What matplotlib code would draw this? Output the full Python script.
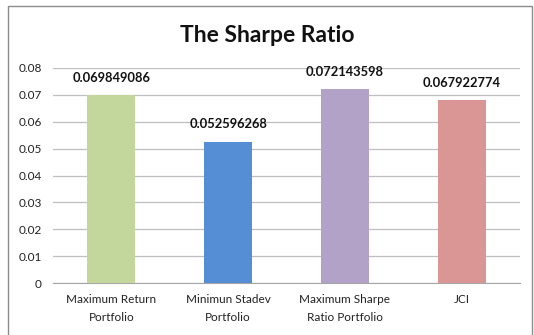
import matplotlib
matplotlib.use("Agg")
import matplotlib.pyplot as plt
from matplotlib.patches import Rectangle

categories = ["Maximum Return\nPortfolio", "Minimun Stadev\nPortfolio",
              "Maximum Sharpe\nRatio Portfolio", "JCI"]
values = [0.069849086, 0.052596268, 0.072143598, 0.067922774]
labels = ["0.069849086", "0.052596268", "0.072143598", "0.067922774"]
colors = ["#C3D69B", "#558ED5", "#B3A2C7", "#D99694"]
yticks = [0, 0.01, 0.02, 0.03, 0.04, 0.05, 0.06, 0.07, 0.08]
yticklabels = ["0", "0.01", "0.02", "0.03", "0.04", "0.05", "0.06", "0.07", "0.08"]

plt.rcParams['font.family'] = ['Lato', 'DejaVu Sans']

W, H = 534, 335
fig = plt.figure(figsize=(W / 100, H / 100), dpi=100)
fig.patch.set_facecolor("white")

# outer frame
fig.add_artist(Rectangle((8 / W, -0.05), (532 - 8) / W, 1.05 - 6 / H,
                         transform=fig.transFigure, fill=False,
                         edgecolor="#8C8C8C", linewidth=1.0))

ax = fig.add_axes([53 / W, 1 - 283 / H, (520 - 53) / W, (283 - 68) / H])
x = range(len(values))
ax.bar(x, values, width=0.41, color=colors, zorder=3)
ax.set_xlim(-0.5, len(values) - 0.5)
ax.set_ylim(0, 0.08)
ax.set_yticks(yticks)
ax.set_yticklabels(yticklabels, fontsize=8.5)
ax.set_xticks(list(x))
ax.set_xticklabels(categories, fontsize=8.5, linespacing=1.75)
ax.tick_params(axis='both', length=0, pad=8, colors="#222222")
ax.tick_params(axis='x', pad=8)
ax.grid(axis='y', color="#BFBFBF", linewidth=0.9, zorder=0)
for s in ["left", "right", "top"]:
    ax.spines[s].set_visible(False)
ax.spines["bottom"].set_color("#A6A6A6")

for xi, v, lab in zip(x, values, labels):
    ax.annotate(lab, (xi, v), xytext=(0, 12.5), textcoords="offset points",
                ha="center", va="center", fontsize=9.3, fontweight="bold",
                color="#111111")

fig.text(0.5, 1 - 35 / H, "The Sharpe Ratio", ha="center", va="center",
         fontsize=16.5, fontweight="bold", color="#111111")

fig.savefig("out.png", dpi=100)
